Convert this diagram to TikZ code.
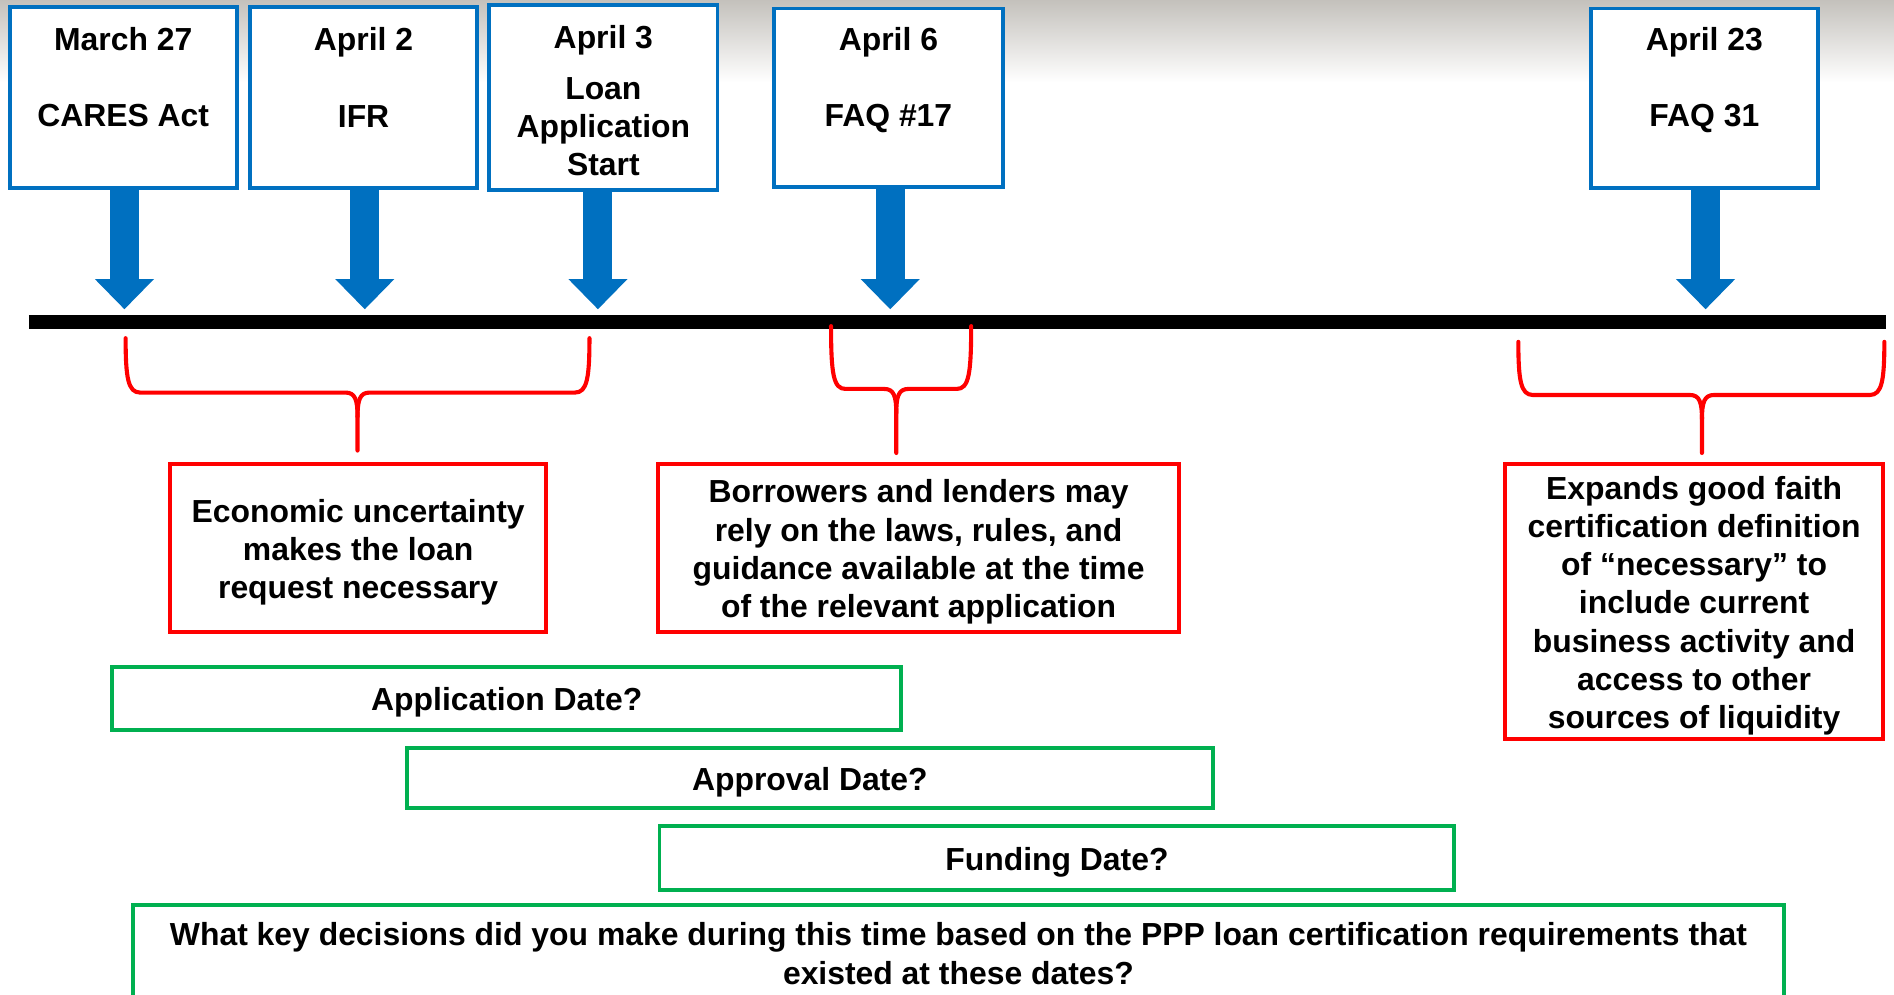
\documentclass[tikz,border=0pt]{standalone}
\usepackage{fontspec}
\setmainfont{Liberation Sans}
\usetikzlibrary{arrows.meta,calc}
\definecolor{tlblue}{HTML}{0070C0}
\definecolor{tlred}{HTML}{FF0000}
\definecolor{tlgreen}{HTML}{00B050}
\definecolor{topgray}{RGB}{196,193,188}
\newcommand\tstrut{\rule{0pt}{13pt}}
% #1 left x, #2 right x, #3 top y, #4 bar y, #5 middle x, #6 tip y
\newcommand\redbrace[6]{%
  \draw[bracepath] (#1,#3) .. controls (#1,#4-12) and (#1+2,#4) .. (#1+12,#4)
     -- (#5-10,#4) .. controls (#5-2,#4) and (#5,#4+6) .. (#5,#4+20) -- (#5,#6);
  \draw[bracepath] (#2,#3) .. controls (#2,#4-12) and (#2-2,#4) .. (#2-12,#4)
     -- (#5+10,#4) .. controls (#5+2,#4) and (#5,#4+6) .. (#5,#4+20);
}
\begin{document}
\begin{tikzpicture}[x=0.5pt,y=-0.5pt,
  txt/.style={font=\fontsize{13.2}{15.8}\selectfont\bfseries, align=center, inner sep=0pt},
  datebox/.style={draw=tlblue, line width=1.6pt, fill=white, inner sep=0pt},
  notebox/.style={txt, draw=tlred, line width=1.6pt},
  qbox/.style={txt, draw=tlgreen, line width=1.6pt},
  barrow/.style={draw=tlblue, line width=12pt, -{Triangle[width=24.5pt 0 0,length=12.5pt 0 0,line width=0pt]}},
  bracepath/.style={draw=tlred, line width=1.7pt, line join=round, line cap=round}
]
\useasboundingbox (0,0) rectangle (1568,823);
\clip (0,0) rectangle (1568,823);
\fill[white] (0,0) rectangle (1568,823);
\shade[top color=topgray, bottom color=white] (0,0) rectangle (1568,68);

% date boxes
\node[datebox, minimum width=94pt, minimum height=75pt] (b1) at (102,81) {};
\node[datebox, minimum width=94pt, minimum height=75pt] (b2) at (301,81) {};
\node[datebox, minimum width=94.5pt, minimum height=76.5pt] (b3) at (499.5,80.5) {};
\node[datebox, minimum width=94.5pt, minimum height=74pt] (b4) at (735.5,81) {};
\node[datebox, minimum width=94pt, minimum height=74.5pt] (b5) at (1411,81.5) {};

\node[txt] (b1t) at (102,64) {March 27\\[15.8pt]CARES Act};
\node[txt] (b2t) at (301,64) {April 2\\[15.8pt]IFR};
\node[txt] (b3t) at (499.5,83.5) {April 3\\[5pt]Loan\\Application\\Start};
\node[txt] (b4t) at (735.5,66.5) {April 6\\[15.8pt]FAQ \#17};
\node[txt] (b5t) at (1411,66.5) {April 23\\[15.8pt]FAQ 31};

% timeline
\coordinate (tlL) at (24,266.5);
\coordinate (tlR) at (1561,266.5);
\draw[line width=5.5pt] (tlL) -- (tlR);

% arrows
\coordinate (a1) at (103,256);
\coordinate (a2) at (302,256);
\coordinate (a3) at (495,256);
\coordinate (a4) at (737,256);
\coordinate (a5) at (1412,256);
\draw[barrow] (a1 |- b1.south) -- (a1);
\draw[barrow] (a2 |- b2.south) -- (a2);
\draw[barrow] (a3 |- b3.south) -- (a3);
\draw[barrow] (a4 |- b4.south) -- (a4);
\draw[barrow] (a5 |- b5.south) -- (a5);

% braces
\redbrace{104}{488}{280}{325}{296}{373}
\redbrace{688}{804}{270}{322}{742}{375}
\redbrace{1257}{1560}{283}{327}{1409}{375}

% note boxes
\node[notebox, minimum width=155.5pt, minimum height=69.5pt] (r1) at (296.5,453.5)
  {\tstrut Economic uncertainty\\makes the loan\\request necessary};
\node[notebox, minimum width=215.5pt, minimum height=69.5pt] (r2) at (760.5,453.5)
  {\tstrut Borrowers and lenders may\\rely on the laws, rules, and\\guidance available at the time\\of the relevant application};
\node[notebox, minimum width=156.5pt, minimum height=114pt] (r3) at (1402.5,498)
  {\tstrut Expands good faith\\certification definition\\of “necessary” to\\include current\\business activity and\\access to other\\sources of liquidity};

% question boxes
\node[qbox, minimum width=326.5pt, minimum height=26pt] (g1) at (419.5,578) {\tstrut Application Date?};
\node[qbox, minimum width=333.5pt, minimum height=25pt] (g2) at (670.5,644) {\tstrut Approval Date?};
\node[qbox, minimum width=329pt, minimum height=26.5pt] (g3) at (875,710.5) {\tstrut Funding Date?};
\node[qbox, minimum width=683.5pt, minimum height=45.5pt] (g4) at (793.5,794.5) {};
\node[txt] (g4t) at (793.5,789.5) {What key decisions did you make during this time based on the PPP loan certification requirements that\\existed at these dates?};
\end{tikzpicture}
\end{document}
